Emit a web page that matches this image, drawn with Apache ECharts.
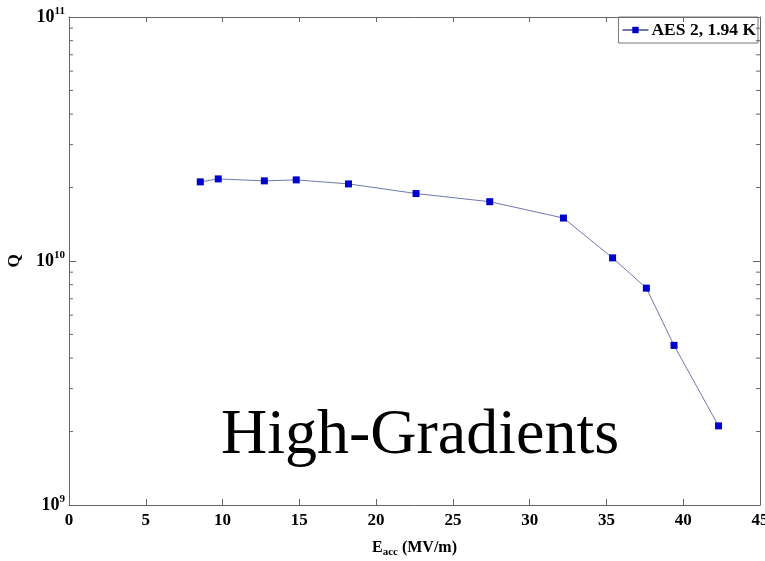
<!DOCTYPE html>
<html><head><meta charset="utf-8">
<script src="https://cdn.jsdelivr.net/npm/echarts@6/dist/echarts.min.js"></script>
<style>html,body{margin:0;padding:0;background:#fff}#c{width:765px;height:561px}</style>
</head><body><div id="c"></div>
<script>
const eacc = [8.55, 9.72, 12.72, 14.8, 18.2, 22.6, 27.4, 32.2, 35.4, 37.6, 39.4, 42.3];
const qValues = [2.11e10, 2.17e10, 2.13e10, 2.15e10, 2.07e10, 1.89e10, 1.75e10, 1.50e10, 1.03e10, 7.74e9, 4.51e9, 2.11e9];
const seriesName = 'AES 2, 1.94 K';
const xTicks = [0, 5, 10, 15, 20, 25, 30, 35, 40, 45];
const yMinorTicks = [2e9,3e9,4e9,5e9,6e9,7e9,8e9,9e9,2e10,3e10,4e10,5e10,6e10,7e10,8e10,9e10];

const font = 'Liberation Serif, Times New Roman, serif';
const axisColor = '#666';
const chart = echarts.init(document.getElementById('c'));
chart.setOption({
  animation: false,
  backgroundColor: '#fff',
  textStyle: {fontFamily: font},
  title: {
    text: 'High-Gradients', left: 415, top: 399, textAlign: 'center',
    textStyle: {fontFamily: font, fontSize: 64, fontWeight: 'normal', color: '#000'}
  },
  grid: {left: 69, right: 5, top: 17, bottom: 56, outerBoundsMode: 'none', containLabel: false},
  legend: {
    right: 7, top: 17, itemWidth: 26, itemHeight: 8, itemGap: 4,
    borderColor: '#777', borderWidth: 1, borderRadius: 0, padding: [4, 2, 4, 3],
    textStyle: {fontFamily: font, fontSize: 17.5, fontWeight: 'bold', color: '#000', padding: [0, 0, 0, -2]},
    data: [seriesName]
  },
  xAxis: [{
    type: 'value', min: 0, max: 45, interval: 5,
    name: '{b|E}{s|acc}{b| (MV/m)}', nameLocation: 'middle', nameGap: 32,
    nameTextStyle: {rich: {
      b: {fontFamily: font, fontSize: 16, fontWeight: 'bold', color: '#000'},
      s: {fontFamily: font, fontSize: 11, fontWeight: 'bold', color: '#000', padding: [10, 0, 0, 0]}
    }},
    axisLine: {show: true, onZero: false, lineStyle: {color: axisColor}},
    axisTick: {show: true, inside: true, length: 6, lineStyle: {color: axisColor}},
    axisLabel: {fontFamily: font, fontSize: 17, fontWeight: 'bold', color: '#000', margin: 7,
      formatter: v => xTicks.includes(v) ? String(v) : ''},
    splitLine: {show: false}
  }, {
    type: 'value', min: 0, max: 45, interval: 5, position: 'top',
    axisLine: {show: true, onZero: false, lineStyle: {color: axisColor}},
    axisTick: {show: true, inside: true, length: 5, lineStyle: {color: axisColor}},
    axisLabel: {show: false}, splitLine: {show: false}
  }],
  yAxis: [{
    type: 'log', logBase: 10, min: 1e9, max: 1e11,
    name: 'Q', nameLocation: 'middle', nameGap: 46, nameRotate: 90,
    nameTextStyle: {fontFamily: font, fontSize: 17, fontWeight: 'bold', color: '#000'},
    axisLine: {show: true, onZero: false, lineStyle: {color: axisColor}},
    axisTick: {show: true, inside: true, length: 7, lineStyle: {color: axisColor}},
    axisLabel: {margin: 4, formatter: v => '{b|10}{s|' + Math.round(Math.log10(v)) + '}',
      rich: {
        b: {fontFamily: font, fontSize: 18, fontWeight: 'bold', color: '#000'},
        s: {fontFamily: font, fontSize: 11, fontWeight: 'bold', color: '#000', padding: [0, 0, 12, 0]}
      }},
    splitLine: {show: false}
  }, {
    type: 'log', logBase: 10, min: 1e9, max: 1e11, position: 'right',
    axisLine: {show: true, onZero: false, lineStyle: {color: axisColor}},
    axisTick: {show: true, inside: true, length: 7, lineStyle: {color: axisColor}},
    axisLabel: {show: false}, splitLine: {show: false}
  }],
  series: [{
    name: seriesName, type: 'line', xAxisIndex: 0, yAxisIndex: 0,
    data: eacc.map((x, i) => [x, qValues[i]]),
    symbol: 'rect', symbolSize: 7, showSymbol: true,
    lineStyle: {color: '#7078b0', width: 1},
    itemStyle: {color: '#0000cc'},
    z: 5
  }, {
    type: 'custom', xAxisIndex: 0, yAxisIndex: 0, silent: true,
    data: yMinorTicks.map(v => [0, v]),
    renderItem: (params, api) => {
      const v = api.value(1);
      const l = api.coord([0, v]);
      const r = api.coord([45, v]);
      return {type: 'group', children: [
        {type: 'line', shape: {x1: l[0], y1: l[1], x2: l[0] + 4, y2: l[1]}, style: {stroke: axisColor, lineWidth: 1}},
        {type: 'line', shape: {x1: r[0], y1: r[1], x2: r[0] - 4, y2: r[1]}, style: {stroke: axisColor, lineWidth: 1}}
      ]};
    }
  }]
});
</script></body></html>
